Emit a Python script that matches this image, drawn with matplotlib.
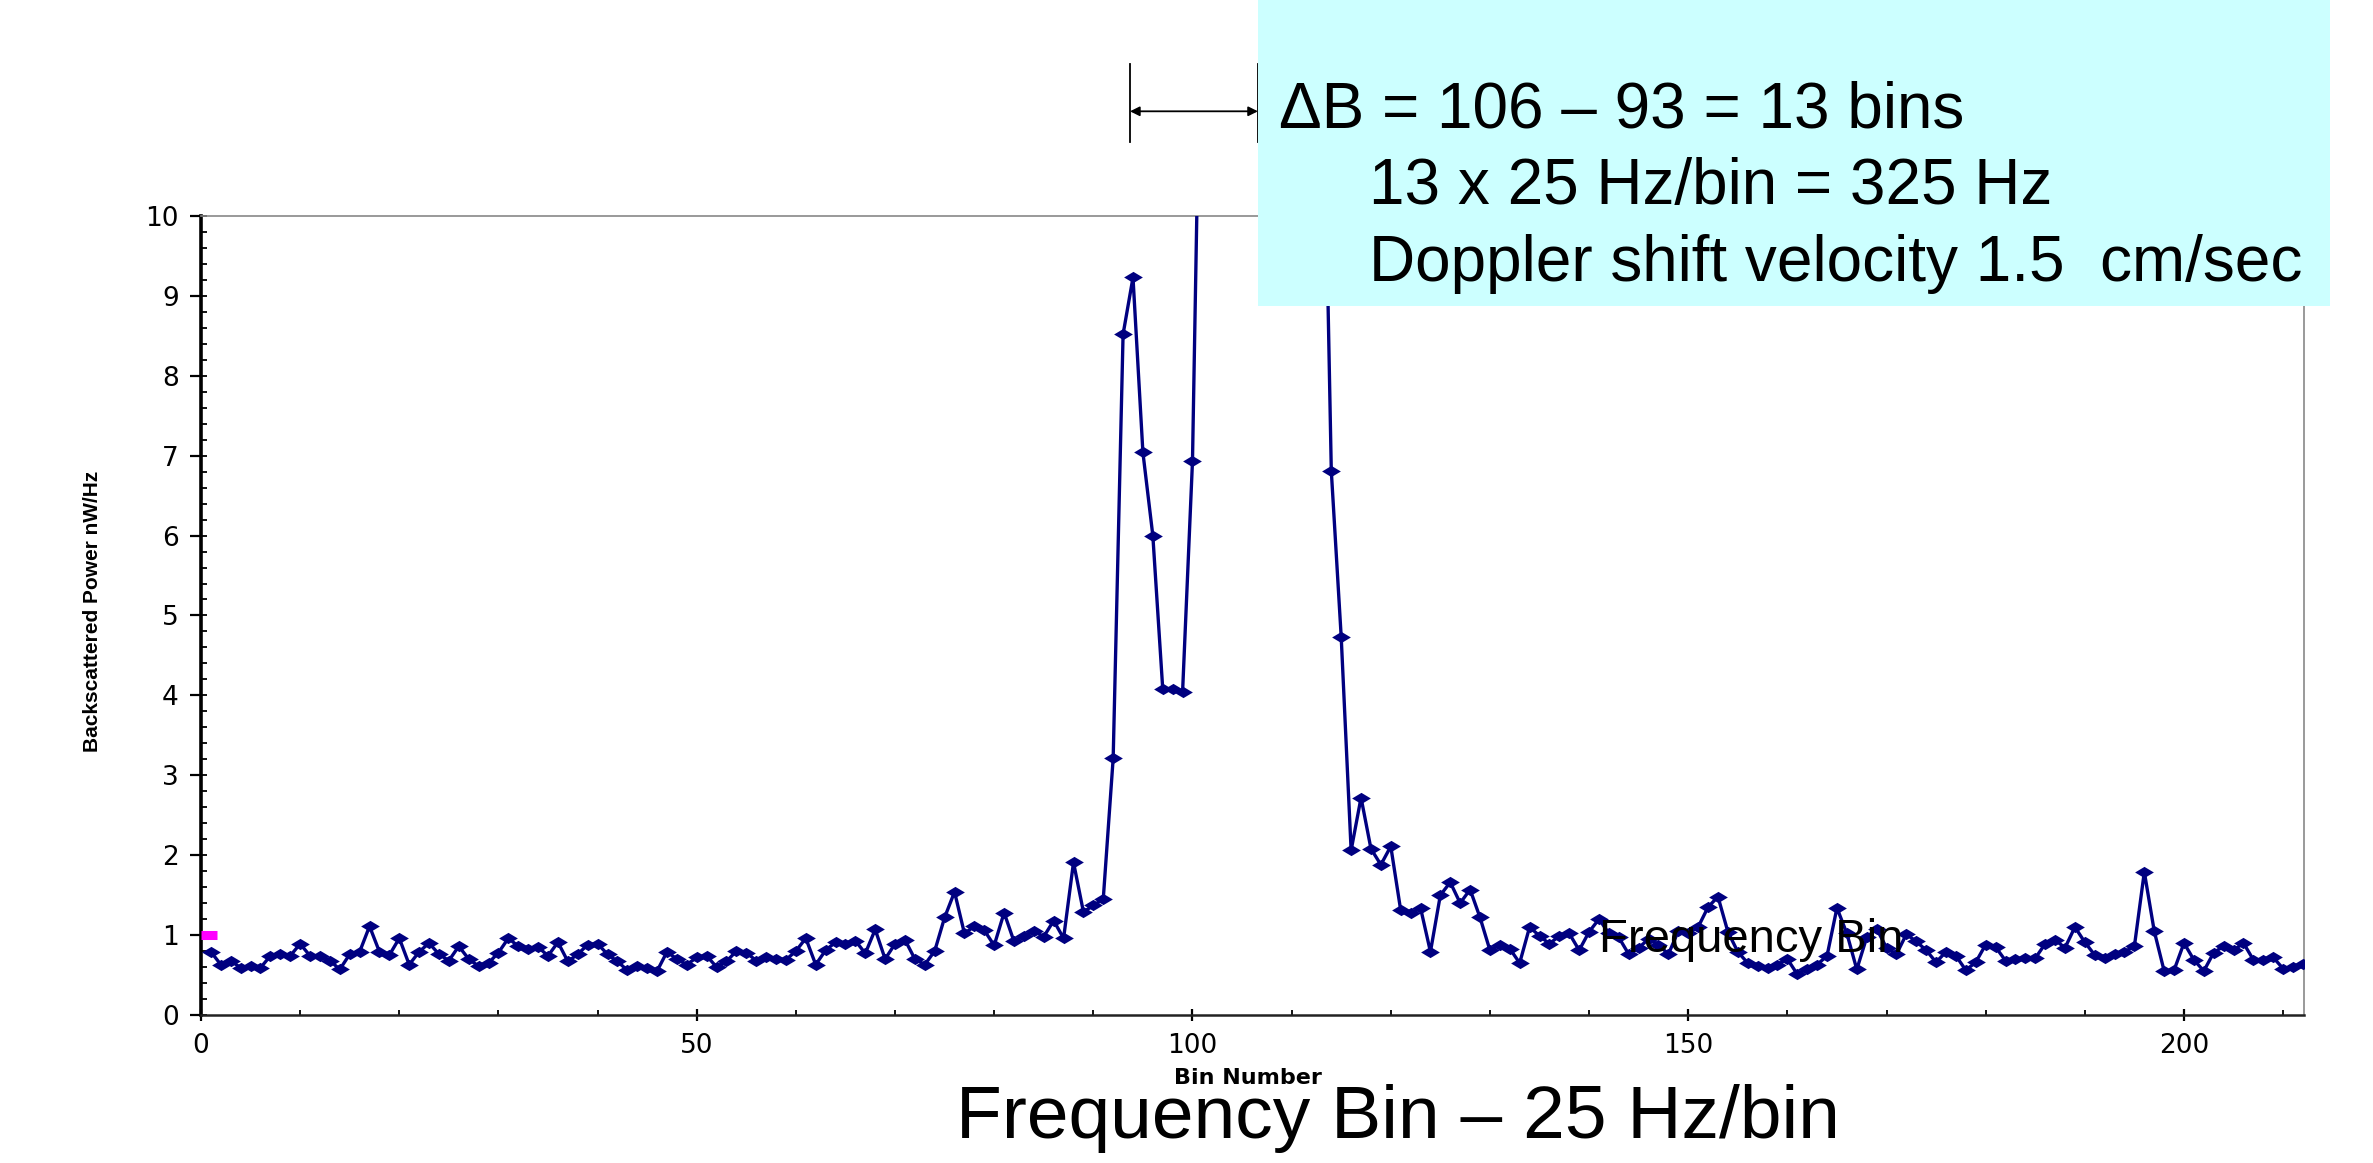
import matplotlib

matplotlib.use("Agg")
import matplotlib.pyplot as plt
import numpy as np
from matplotlib.lines import Line2D
from matplotlib.patches import Rectangle
from matplotlib.ticker import MultipleLocator

# Backscattered power per frequency bin (bins 1..212), nW/Hz
bins = np.arange(1, 213)
power = [
    0.79, 0.63, 0.68, 0.59, 0.61, 0.59, 0.74, 0.76, 0.74, 0.89,
    0.74, 0.74, 0.68, 0.57, 0.76, 0.79, 1.11, 0.79, 0.75, 0.96,
    0.63, 0.79, 0.90, 0.76, 0.68, 0.86, 0.70, 0.61, 0.65, 0.78,
    0.96, 0.86, 0.83, 0.85, 0.74, 0.91, 0.67, 0.76, 0.88, 0.89,
    0.76, 0.67, 0.56, 0.61, 0.59, 0.55, 0.79, 0.70, 0.63, 0.72,
    0.74, 0.60, 0.67, 0.80, 0.78, 0.68, 0.72, 0.70, 0.69, 0.80,
    0.96, 0.63, 0.81, 0.91, 0.89, 0.93, 0.77, 1.07, 0.70, 0.89,
    0.94, 0.70, 0.63, 0.80, 1.22, 1.54, 1.02, 1.11, 1.06, 0.87,
    1.28, 0.92, 0.99, 1.05, 0.98, 1.18, 0.96, 1.91, 1.29, 1.37,
    1.45, 3.21, 8.52, 9.23, 7.04, 6.00, 4.08, 4.08, 4.04, 6.93,
    14.0, 22.0, 35.0, 50.0, 68.0, 85.0, 95.0, 88.0, 70.0, 50.0,
    32.0, 20.0, 13.2, 6.81, 4.73, 2.06, 2.72, 2.08, 1.88, 2.11,
    1.31, 1.27, 1.34, 0.79, 1.50, 1.66, 1.40, 1.57, 1.22, 0.81,
    0.88, 0.83, 0.65, 1.10, 0.99, 0.89, 0.99, 1.02, 0.81, 1.04,
    1.20, 1.02, 0.97, 0.76, 0.84, 0.95, 0.88, 0.76, 1.05, 1.03,
    1.10, 1.35, 1.48, 1.04, 0.79, 0.65, 0.61, 0.59, 0.63, 0.70,
    0.51, 0.58, 0.63, 0.74, 1.34, 1.02, 0.57, 0.97, 1.08, 0.84,
    0.76, 1.01, 0.92, 0.81, 0.66, 0.79, 0.74, 0.56, 0.66, 0.88,
    0.85, 0.68, 0.70, 0.71, 0.71, 0.89, 0.94, 0.84, 1.10, 0.91,
    0.75, 0.71, 0.76, 0.79, 0.86, 1.79, 1.05, 0.55, 0.56, 0.90,
    0.69, 0.55, 0.78, 0.86, 0.81, 0.90, 0.69, 0.69, 0.72, 0.58,
    0.60, 0.64,
]

# short magenta reference series at the left edge
ref_x = [0.0, 1.6]
ref_y = [1.0, 1.0]

x_ticks = [0, 50, 100, 150, 200]
y_ticks = [0, 1, 2, 3, 4, 5, 6, 7, 8, 9, 10]

# bins marking the Doppler shift
shift_lo = 93.7
shift_hi = 106.6

note_lines = [
    "\u0394B = 106 \u2013 93 = 13 bins",
    "13 x 25 Hz/bin = 325 Hz",
    "Doppler shift velocity 1.5  cm/sec",
]


def main():
    plt.rcParams["font.family"] = ["Liberation Sans", "DejaVu Sans"]

    fig = plt.figure(figsize=(23.73, 11.63), dpi=100)
    fig.patch.set_facecolor("white")

    # cyan note box sits behind the plot
    fig.patches.append(
        Rectangle(
            (0.530, 0.737), 0.452, 0.263,
            transform=fig.transFigure, facecolor="#ccffff",
            edgecolor="none", zorder=0,
        )
    )

    ax = fig.add_axes([0.0847, 0.1273, 0.8862, 0.687])
    ax.set_facecolor("none")

    diamond = [(-1, 0), (0, 0.6), (1, 0), (0, -0.6), (-1, 0)]
    ax.plot(
        bins, power, color="#000080", linewidth=2.4,
        marker=diamond, markersize=13.5, markeredgewidth=0,
        markerfacecolor="#000080", zorder=3,
    )
    ax.plot(ref_x, ref_y, color="#ff00ff", linewidth=6.5,
            solid_capstyle="butt", zorder=4)

    ax.set_xlim(0, 212.1)
    ax.set_ylim(0, 10)

    ax.set_xticks(x_ticks)
    ax.set_yticks(y_ticks)
    ax.xaxis.set_minor_locator(MultipleLocator(10))
    ax.yaxis.set_minor_locator(MultipleLocator(0.2))
    ax.yaxis.remove_overlapping_locs = False

    tick_font = {"family": "DejaVu Sans", "size": 19}
    ax.set_xticklabels([str(t) for t in x_ticks], fontdict=tick_font)
    ax.set_yticklabels([str(t) for t in y_ticks], fontdict=tick_font)

    ax.tick_params(axis="y", which="major", direction="out", length=8,
                   width=1.6, pad=8, colors="black")
    ax.tick_params(axis="y", which="minor", direction="in", length=4.5,
                   width=1.3)
    ax.tick_params(axis="x", which="major", direction="inout", length=8,
                   width=1.6, pad=9)
    ax.tick_params(axis="x", which="minor", direction="in", length=3.5,
                   width=1.3)

    ax.spines["left"].set_linewidth(2.6)
    ax.spines["left"].set_color("black")
    ax.spines["bottom"].set_linewidth(1.8)
    ax.spines["bottom"].set_color("#222222")
    for side in ["top", "right"]:
        ax.spines[side].set_linewidth(1.2)
        ax.spines[side].set_color("#888888")

    # label inside the plot area
    ax.text(141.0, 0.79, "Frequency Bin", fontsize=34, ha="left",
            va="baseline", color="black", zorder=5)

    # Doppler shift marker above the plot
    trans = ax.get_xaxis_transform()
    for xb in [shift_lo, shift_hi]:
        ax.add_line(Line2D([xb, xb], [1.093, 1.190], transform=trans,
                           color="black", linewidth=1.3, clip_on=False))
    ax.annotate(
        "", xy=(shift_hi, 1.131), xytext=(shift_lo, 1.131),
        xycoords=trans, textcoords=trans,
        arrowprops=dict(arrowstyle="<|-|>", color="black", lw=1.3,
                        mutation_scale=14, shrinkA=0, shrinkB=0),
        annotation_clip=False,
    )

    # note text
    fig.text(0.539, 0.890, note_lines[0], fontsize=46, ha="left",
             va="baseline")
    fig.text(0.577, 0.8246, note_lines[1], fontsize=46, ha="left",
             va="baseline")
    fig.text(0.577, 0.7584, note_lines[2], fontsize=46, ha="left",
             va="baseline")

    # axis titles
    fig.text(0.039, 0.474, "Backscattered Power nW/Hz", fontsize=15,
             fontweight="bold", rotation=90, ha="center", va="center")
    fig.text(0.526, 0.0735, "Bin Number", family="DejaVu Sans",
             fontsize=16, fontweight="bold", ha="center", va="center",
             zorder=1)
    fig.text(0.589, 0.0215, "Frequency Bin \u2013 25 Hz/bin", fontsize=54,
             ha="center", va="baseline", zorder=2)

    fig.savefig("out.png", dpi=100)
    plt.close(fig)


if __name__ == "__main__":
    main()
